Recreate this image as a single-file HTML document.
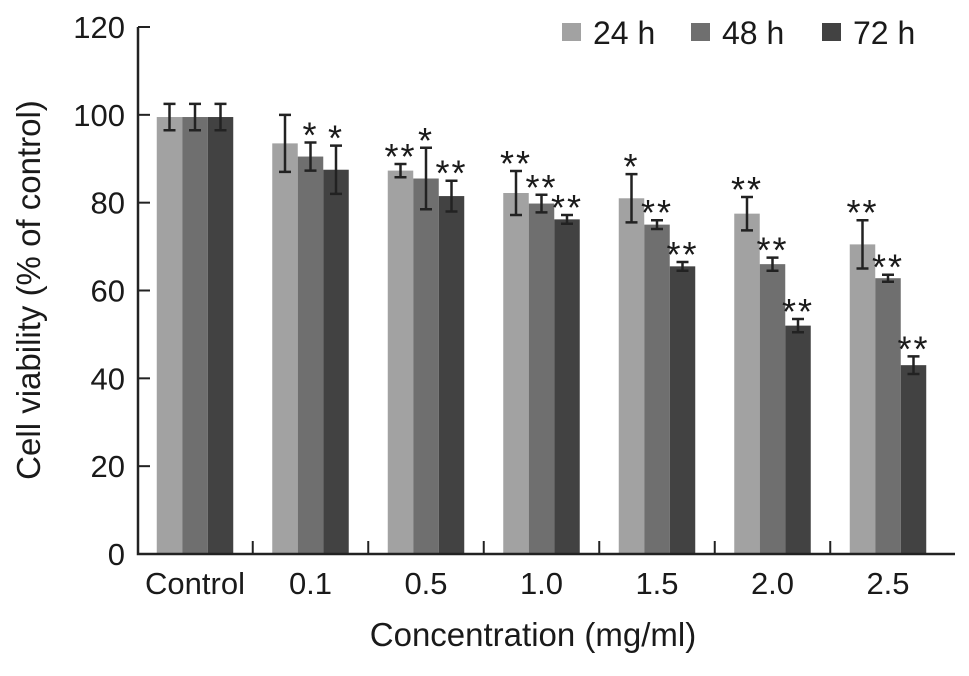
<!DOCTYPE html>
<html><head><meta charset="utf-8"><style>
body{margin:0;background:#fff}
svg text{font-family:"Liberation Sans",sans-serif;fill:#1a1a1a}
</style></head><body>
<svg id="c" width="969" height="671"></svg>
<script>
const categories=["Control","0.1","0.5","1.0","1.5","2.0","2.5"];
const series=["24 h","48 h","72 h"];
const v24=[99.5,93.5,87.3,82.2,81,77.5,70.5];
const v48=[99.5,90.5,85.5,79.8,75,66,62.8];
const v72=[99.5,87.5,81.5,76.2,65.5,52,43];
const e24=[3,6.5,1.5,5,5.5,3.8,5.5];
const e48=[3,3.2,7,2,1,1.5,0.8];
const e72=[3,5.5,3.5,1,1,1.5,2];
const s24=["","","**","**","*","**","**"];
const s48=["","*","*","**","**","**","**"];
const s72=["","*","**","**","**","**","**"];
const yTicks=[0,20,40,60,80,100,120];
const colors=["#a2a2a2","#6f6f6f","#424242"];
const NS="http://www.w3.org/2000/svg";
const svg=document.getElementById('c');
function el(t,a,txt){const e=document.createElementNS(NS,t);for(const k in a)e.setAttribute(k,a[k]);if(txt!==undefined)e.textContent=txt;svg.appendChild(e);return e;}
const x0=138,yBase=554,yTop=27,xEnd=955;
const y=v=>yBase-(yBase-yTop)*v/120;
const gW=115.5,bw=25.5;
const gc=i=>195+gW*i;
const vals=[v24,v48,v72],errs=[e24,e48,e72],stars=[s24,s48,s72];
categories.forEach((c,i)=>{
  for(let s=0;s<3;s++){
    const bx=gc(i)-1.5*bw+s*bw, v=vals[s][i], er=errs[s][i];
    let r=el('rect',{x:bx,y:y(v),width:bw,height:yBase-y(v),fill:colors[s]});
    
    
    const cx=bx+bw/2;
    let g=el('path',{d:`M${cx},${y(v+er)}V${y(v-er)}M${cx-6},${y(v+er)}H${cx+6}M${cx-6},${y(v-er)}H${cx+6}`,stroke:'#222','stroke-width':2.5,fill:'none'});
    
    
    if(stars[s][i]){
      let t=el('text',{x:cx,y:y(v+er)+5,'text-anchor':'middle','font-size':36,'letter-spacing':2,fill:'#444'},stars[s][i]);
      
      
    }
  }
  let t=el('text',{x:gc(i),y:594,'text-anchor':'middle','font-size':31},c);
  
  
  if(i<categories.length-1){
    let tk=el('line',{x1:gc(i)+gW/2,x2:gc(i)+gW/2,y1:yBase,y2:yBase-13,stroke:'#222','stroke-width':2});
    
    
  }
});
yTicks.forEach(v=>{
  let l=el('line',{x1:x0,x2:x0+12,y1:y(v),y2:y(v),stroke:'#222','stroke-width':2});
  
  
  let t=el('text',{x:125,y:y(v)+11,'text-anchor':'end','font-size':31},v);
  
  
});
let ax=el('path',{d:`M${x0},${yTop}V${yBase}H${xEnd}`,stroke:'#222','stroke-width':2.5,fill:'none'});


let xt=el('text',{x:533,y:646,'text-anchor':'middle','font-size':33},'Concentration (mg/ml)');


let yt=el('text',{x:0,y:0,'text-anchor':'middle','font-size':33,transform:'translate(40,290) rotate(-90)'},'Cell viability (% of control)');


const lx=[562,691,822];
series.forEach((s,i)=>{
  let r=el('rect',{x:lx[i],y:23,width:19,height:18,fill:colors[i]});
  
  
  let t=el('text',{x:lx[i]+31,y:44,'font-size':32},s);
  
  
});
</script>
</body></html>
